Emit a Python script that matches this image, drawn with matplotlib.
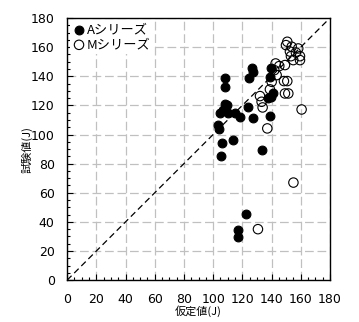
import matplotlib
matplotlib.use("Agg")
import matplotlib.pyplot as plt
from matplotlib.ticker import MultipleLocator

plt.rcParams['font.family'] = ['DejaVu Sans', 'Noto Sans CJK JP']

# A series (filled)
a_x = [108.1, 108.1, 126.4, 127.5, 124.8, 139.4, 138.9, 141.2, 139.6, 137.8,
       108.1, 107.0, 104.7, 110.4, 115.0, 118.4, 124.1, 127.5, 138.9,
       103.6, 104.3, 105.9, 113.4, 105.2, 133.3, 117.0, 117.0, 122.5, 109.3]
a_y = [138.5, 132.8, 146.0, 143.0, 138.5, 146.0, 139.6, 128.2, 126.0, 124.9,
       121.3, 116.8, 115.0, 114.5, 115.0, 111.8, 118.6, 111.1, 112.6,
       106.5, 103.5, 93.9, 96.2, 85.2, 89.7, 34.3, 29.5, 45.3, 120.2]

# M series (open)
m_x = [150.8, 149.9, 153.8, 158.3, 152.6, 156.7, 153.3, 159.5, 154.9, 159.5,
       142.8, 145.3, 149.2, 141.9, 143.5, 140.1, 148.5, 150.8, 138.9, 149.2,
       151.5, 132.1, 133.2, 133.9, 160.6, 137.1, 130.7, 155.0]
m_y = [163.7, 161.4, 160.3, 159.1, 157.0, 156.3, 153.8, 153.8, 151.1, 151.1,
       148.8, 147.0, 147.7, 144.2, 140.8, 136.2, 136.7, 136.7, 131.0, 128.2,
       128.2, 126.4, 122.5, 118.6, 117.2, 104.2, 35.0, 67.0]

ticks = [0, 20, 40, 60, 80, 100, 120, 140, 160, 180]

fig = plt.figure(figsize=(3.59, 3.22), dpi=100)
ax = fig.add_axes([0.187, 0.130, 0.732, 0.814])

ax.set_xlim(0, 180)
ax.set_ylim(0, 180)
ax.set_xticks(ticks)
ax.set_yticks(ticks)
ax.xaxis.set_minor_locator(MultipleLocator(5))
ax.yaxis.set_minor_locator(MultipleLocator(5))
ax.tick_params(which='major', direction='in', length=4, width=0.8, labelsize=9, pad=9)
ax.tick_params(which='minor', direction='in', length=2.5, width=0.8)
ax.grid(True, which='major', color='#c0c0c0', linestyle=(0, (7, 3)), linewidth=0.9)
ax.set_axisbelow(True)
for s in ax.spines.values():
    s.set_linewidth(1.0)
    s.set_color('black')

ax.plot([0, 180], [0, 180], color='black', linestyle=(0, (5, 3)), linewidth=0.9, zorder=2)

ax.scatter(a_x, a_y, s=40, facecolor='black', edgecolor='black', linewidth=0.8, zorder=3, label='Aシリーズ')
ax.scatter(m_x, m_y, s=46, facecolor='none', edgecolor='black', linewidth=0.8, zorder=3, label='Mシリーズ')

leg = ax.legend(loc='upper left', frameon=True, fancybox=False, edgecolor='none',
                facecolor='white', framealpha=1, handletextpad=0.1, borderpad=0.2,
                labelspacing=0.15, handlelength=1.0, borderaxespad=0.2,
                prop={'family': ['Noto Sans CJK JP'], 'size': 9.5})

ax.set_xlabel('仮定値(J)', family=['Noto Sans CJK JP'], fontsize=8, labelpad=0)
ax.set_ylabel('試験値(J)', family=['Noto Sans CJK JP'], fontsize=8, labelpad=-1)

fig.savefig('out.png', dpi=100)
